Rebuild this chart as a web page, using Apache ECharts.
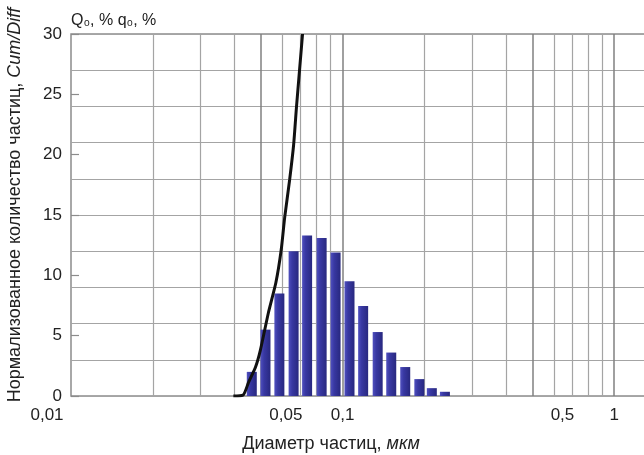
<!DOCTYPE html>
<html><head><meta charset="utf-8">
<script src="https://cdn.jsdelivr.net/npm/echarts@6/dist/echarts.min.js"></script>
<style>html,body{margin:0;padding:0;background:#fff}#c{width:644px;height:455px}</style>
</head><body><div id="c"></div>
<script>
// Differential distribution (bars): particle diameter (µm) and q0 (%)
const barDiameters = [0.0463, 0.0520, 0.0585, 0.0660, 0.0740, 0.0837, 0.0942, 0.106, 0.119, 0.1346, 0.151, 0.170, 0.1916, 0.213, 0.238];
const barValues    = [2.0, 5.5, 8.5, 12.0, 13.3, 13.1, 11.9, 9.5, 7.45, 5.3, 3.6, 2.4, 1.4, 0.65, 0.35];
// Cumulative curve Q0 (%)
const cumDiameters = [0.0396, 0.0431, 0.0450, 0.0478, 0.0498, 0.0533, 0.0568, 0.0594, 0.0612, 0.0638, 0.0660, 0.0676, 0.0694, 0.0712];
const cumValues    = [0.0, 0.1, 1.1, 2.4, 3.8, 6.9, 9.4, 12.1, 14.8, 17.9, 20.8, 23.9, 27.0, 30.0];
// Axis ticks
const xTickValues = [0.01, 0.05, 0.1, 0.5, 1];
const xTickLabels = ['0,01', '0,05', '0,1', '0,5', '1'];
const xMinorGrid = [0.02, 0.03, 0.04, 0.06, 0.07, 0.08, 0.09, 0.2, 0.3, 0.4, 0.6, 0.7, 0.8, 0.9];
const xMajorGrid = [0.05, 0.1, 0.5, 1];
const yLabelTicks = [0, 5, 10, 15, 20, 25, 30];

const FONT = '"Liberation Sans", Arial, sans-serif';
const labelShift = {'0,01': 'l', '0,05': 'r', '0,1': 'c', '0,5': 'r2', '1': 'c'};

const chart = echarts.init(document.getElementById('c'), null, {renderer: 'canvas'});
const xMin = 0.01, xMax = 1.32;
const commonX = {type: 'log', logBase: 10, min: xMin, max: xMax, gridIndex: 0};
const TS = 17;

chart.setOption({
  animation: false,
  backgroundColor: '#fff',
  title: {
    text: 'Q\u2080, % q\u2080, %',
    left: 66, top: 8,
    textStyle: {fontFamily: FONT, fontSize: 16, fontWeight: 'normal', color: '#222'}
  },
  grid: {left: 71, top: 34, bottom: 59, right: -3, show: true, borderColor: '#8c8c8c', borderWidth: 1.5,
         containLabel: false, outerBoundsMode: 'none'},
  xAxis: [
    Object.assign({}, commonX, {
      axisLine: {show: false},
      axisTick: {show: false, customValues: xTickValues},
      splitLine: {show: false},
      axisLabel: {
        customValues: xTickValues,
        margin: 11,
        color: '#222', fontFamily: FONT, fontSize: TS,
        formatter: function (v) {
          let idx = xTickValues.findIndex(t => Math.abs(t - v) / t < 1e-6);
          let txt = idx >= 0 ? xTickLabels[idx] : '';
          return '{' + labelShift[txt] + '|' + txt + '}';
        },
        rich: {
          l: {fontFamily: FONT, fontSize: TS, color: '#222', padding: [0, 48, 0, 0]},
          r: {fontFamily: FONT, fontSize: TS, color: '#222', padding: [0, 0, 0, 50]},
          r2: {fontFamily: FONT, fontSize: TS, color: '#222', padding: [0, 0, 0, 60]},
          c: {fontFamily: FONT, fontSize: TS, color: '#222'}
        }
      },
      name: '{n|Диаметр частиц, }{i|мкм}',
      nameLocation: 'middle', nameGap: 39,
      nameTextStyle: {
        padding: [0, 56, 0, 0],
        rich: {
          n: {fontFamily: FONT, fontSize: 18, color: '#222'},
          i: {fontFamily: FONT, fontSize: 18, color: '#222', fontStyle: 'italic'}
        }
      }
    }),
    Object.assign({}, commonX, {
      position: 'bottom',
      axisLine: {show: false}, axisLabel: {show: false},
      axisTick: {show: false, customValues: xMinorGrid},
      splitLine: {show: true, lineStyle: {color: '#a4a4a4', width: 1.2}}
    }),
    Object.assign({}, commonX, {
      position: 'bottom',
      axisLine: {show: false}, axisLabel: {show: false},
      axisTick: {show: false, customValues: xMajorGrid},
      splitLine: {show: true, lineStyle: {color: '#808080', width: 1.5}}
    })
  ],
  yAxis: [
    {
      type: 'value', min: 0, max: 30, interval: 5,
      axisLine: {show: false},
      axisTick: {show: true, inside: true, length: 8, lineStyle: {color: '#8c8c8c', width: 1.2}},
      splitLine: {show: false},
      axisLabel: {margin: 9, color: '#222', fontFamily: FONT, fontSize: TS},
      name: '{n|Нормализованное количество частиц, }{i|Cum/Diff}',
      nameLocation: 'middle', nameGap: 47, nameRotate: 90,
      nameTextStyle: {
        padding: [0, 0, 0, 20],
        rich: {
          n: {fontFamily: FONT, fontSize: 18, color: '#222'},
          i: {fontFamily: FONT, fontSize: 18, color: '#222', fontStyle: 'italic'}
        }
      }
    },
    {
      type: 'value', min: 0, max: 30, interval: 3, position: 'left',
      axisLine: {show: false}, axisTick: {show: false}, axisLabel: {show: false},
      splitLine: {show: true, lineStyle: {color: '#a4a4a4', width: 1.2}}
    }
  ],
  series: [
    {
      type: 'bar', xAxisIndex: 0, yAxisIndex: 0,
      barWidth: 10,
      data: barDiameters.map((d, i) => [d, barValues[i]]),
      itemStyle: {
        color: new echarts.graphic.LinearGradient(0, 0, 1, 0, [
          {offset: 0, color: '#5050bf'},
          {offset: 0.35, color: '#3838a2'},
          {offset: 1, color: '#28287f'}
        ])
      },
      z: 3
    },
    {
      type: 'line', xAxisIndex: 0, yAxisIndex: 0,
      data: cumDiameters.map((d, i) => [d, cumValues[i]]),
      showSymbol: false, symbol: 'none', smooth: 0.2,
      lineStyle: {color: '#111', width: 3},
      clip: true, z: 4
    }
  ]
});
</script>
</body></html>
